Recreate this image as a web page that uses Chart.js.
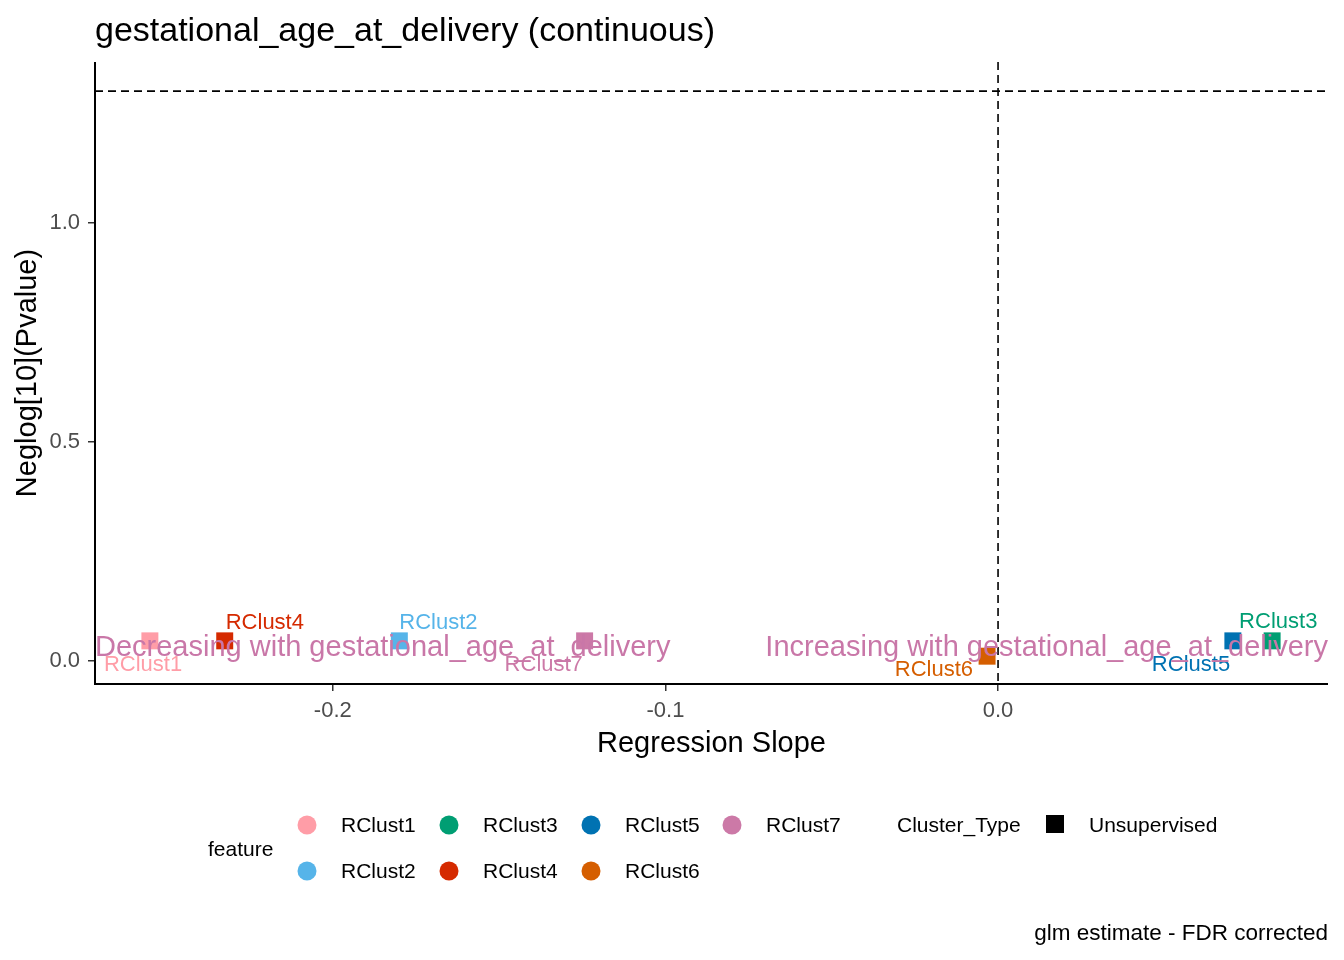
<!DOCTYPE html>
<html><head><meta charset="utf-8">
<script src="https://cdn.jsdelivr.net/npm/chart.js@4.4.0/dist/chart.umd.min.js"></script>
<style>html,body{margin:0;padding:0;background:#fff}#wrap{width:1344px;height:960px}</style>
</head><body><div id="wrap"><canvas id="c" width="1344" height="960"></canvas></div>
<script>
// ---- data ----
const features = ["RClust1","RClust2","RClust3","RClust4","RClust5","RClust6","RClust7"];
const slopes   = [-0.255, -0.180, 0.0824, -0.2325, 0.0706, -0.0033, -0.1243];
const neglogP  = [0.046, 0.046, 0.046, 0.046, 0.046, 0.011, 0.046];
const colors   = ["#FF9DA7","#56B4E9","#009E73","#D52A00","#0072B2","#D55E00","#CC79A7"];
const xTicks = [-0.2, -0.1, 0.0];
const yTicks = [0.0, 0.5, 1.0];
const sigLine = 1.30103; // -log10(0.05)
const xRange = [-0.2715, 0.0992];
const yRange = [-0.0525, 1.3676];
// label offsets (pixels, ggrepel-like placement)
const labelOffsets = { RClust1:[-46,24,'left'], RClust2:[0,-18,'left'], RClust3:[-33,-19,'left'], RClust4:[1,-18,'left'],
  RClust5:[-81,24,'left'], RClust6:[-14,14,'right'], RClust7:[-80,24,'left'] };

const FONT = "'Liberation Sans', Arial, sans-serif";

const overlay = {
  id:'overlay',
  beforeDatasetsDraw(chart){
    const {ctx, chartArea:a, scales:{x,y}} = chart;
    ctx.save();
    ctx.strokeStyle='#000'; ctx.lineWidth=1.6; ctx.setLineDash([8,5]);
    const yy = y.getPixelForValue(sigLine);
    ctx.beginPath(); ctx.moveTo(a.left, yy); ctx.lineTo(a.right, yy); ctx.stroke();
    const xx = x.getPixelForValue(0);
    ctx.beginPath(); ctx.moveTo(xx, a.top); ctx.lineTo(xx, a.bottom); ctx.stroke();
    ctx.restore();
  },
  afterDatasetsDraw(chart){
    const {ctx, chartArea:a, scales:{x,y}} = chart;
    ctx.save();
    // point labels
    ctx.font = "22px "+FONT; ctx.textBaseline='middle';
    features.forEach((f,i)=>{
      const px = x.getPixelForValue(slopes[i]), py = y.getPixelForValue(neglogP[i]);
      const o = labelOffsets[f];
      ctx.fillStyle = colors[i]; ctx.textAlign = o[2];
      ctx.fillText(f, px+o[0], py+o[1]);
    });
    // direction annotations
    ctx.font = "29px "+FONT; ctx.fillStyle = "#C977A8";
    const ay = y.getPixelForValue(0.030);
    ctx.textAlign='left'; ctx.fillText("Decreasing with gestational_age_at_delivery", a.left, ay);
    ctx.textAlign='right'; ctx.fillText("Increasing with gestational_age_at_delivery", a.right, ay);

    // axes lines
    ctx.strokeStyle='#000'; ctx.lineWidth=2; ctx.setLineDash([]);
    ctx.beginPath(); ctx.moveTo(a.left, a.top); ctx.lineTo(a.left, a.bottom); ctx.lineTo(a.right, a.bottom); ctx.stroke();

    // title
    ctx.fillStyle='#000'; ctx.textAlign='left'; ctx.textBaseline='middle';
    ctx.font = "34px "+FONT;
    ctx.fillText("gestational_age_at_delivery (continuous)", a.left, 32);
    // axis titles
    ctx.font = "29px "+FONT; ctx.textAlign='center';
    ctx.fillText("Regression Slope", (a.left+a.right)/2, 744);
    ctx.save(); ctx.translate(28, (a.top+a.bottom)/2); ctx.rotate(-Math.PI/2);
    ctx.fillText("Neglog[10](Pvalue)", 0, 0); ctx.restore();

    // legend
    ctx.font = "21px "+FONT; ctx.textAlign='left';
    ctx.fillText("feature", 208, 850);
    const cols = [307, 449, 591, 732], rows = [826, 872];
    const order = [[0,0,0],[1,0,1],[2,1,0],[3,1,1],[4,2,0],[5,2,1],[6,3,0]]; // feature idx, col, row
    order.forEach(([fi,c,r])=>{
      ctx.fillStyle = colors[fi];
      ctx.beginPath(); ctx.arc(cols[c], rows[r]-1, 9.5, 0, Math.PI*2); ctx.fill();
      ctx.fillStyle='#000'; ctx.fillText(features[fi], cols[c]+34, rows[r]);
    });
    ctx.fillText("Cluster_Type", 897, 826);
    ctx.fillRect(1046, 815, 18, 18);
    ctx.fillText("Unsupervised", 1089, 826);
    // caption
    ctx.font = "22.5px "+FONT; ctx.textAlign='right';
    ctx.fillText("glm estimate - FDR corrected", a.right, 934);
    ctx.restore();
  }
};

new Chart(document.getElementById('c'), {
  type:'scatter',
  data:{ datasets:[{
    data: slopes.map((s,i)=>({x:s, y:neglogP[i]})),
    backgroundColor: colors, borderColor: colors, borderWidth:0,
    pointStyle:'rect', pointRadius:12, pointHoverRadius:12
  }]},
  options:{
    responsive:false, animation:false, devicePixelRatio:1,
    layout:{padding:{left:0, right:16, top:62, bottom:0}},
    plugins:{legend:{display:false}, tooltip:{enabled:false}},
    scales:{
      x:{ type:'linear', min:xRange[0], max:xRange[1],
        afterBuildTicks(s){ s.ticks = xTicks.map(v=>({value:v})); },
        afterFit(s){ s.height = 276; },
        grid:{drawOnChartArea:false, drawTicks:true, tickLength:7, color:'#333', lineWidth:1.5},
        border:{display:false},
        ticks:{ color:'#4D4D4D', font:{size:22, family:FONT}, padding:7, maxRotation:0,
          callback:v=>v.toFixed(1) } },
      y:{ type:'linear', min:yRange[0], max:yRange[1],
        afterBuildTicks(s){ s.ticks = yTicks.map(v=>({value:v})); },
        afterFit(s){ s.width = 95; },
        grid:{drawOnChartArea:false, drawTicks:true, tickLength:7, color:'#333', lineWidth:1.5},
        border:{display:false},
        ticks:{ color:'#4D4D4D', font:{size:22, family:FONT}, padding:8,
          callback:v=>v.toFixed(1) } }
    }
  },
  plugins:[overlay]
});
</script></body></html>
